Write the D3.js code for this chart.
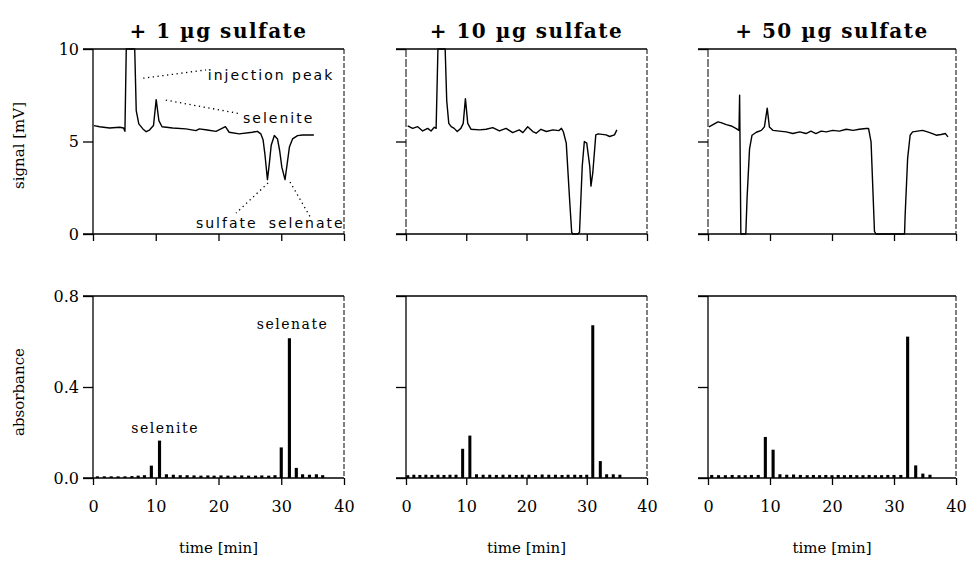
<!DOCTYPE html>
<html>
<head>
<meta charset="utf-8">
<script src="https://cdn.jsdelivr.net/npm/d3@7"></script>
<style>
  body { margin: 0; background: #fff; }
  svg { display: block; }
</style>
</head>
<body>
<div id="chart"></div>
<script>
// ---- data ----
var timeTicks = [0, 10, 20, 30, 40];
var signalTicks = [0, 5, 10];
var absorbTicks = [0, 0.4, 0.8];
var titles = ["+ 1 \u00b5g sulfate", "+ 10 \u00b5g sulfate", "+ 50 \u00b5g sulfate"];

// conductivity signal [time min, mV]
var signal1 = [[0.16,5.86],[1.06,5.8],[2.65,5.73],[4.24,5.77],[4.87,5.73],[5.09,5.55],[5.3,10],[6.65,10],[6.89,6.67],
  [7.3,5.95],[7.95,5.68],[8.48,5.53],[9.0,5.62],[9.64,5.86],[10.07,7.26],[10.5,6.13],[11.0,5.8],[12.7,5.73],[14.8,5.68],
  [16.4,5.59],[16.95,5.68],[18.2,5.62],[19.6,5.55],[20.4,5.68],[21.1,5.8],[21.7,5.5],[23.3,5.41],[25.4,5.5],[26.2,5.55],
  [26.75,5.41],[27.1,5.1],[27.4,4.3],[27.8,2.94],[28.1,3.8],[28.4,4.8],[28.9,5.32],[29.4,5.14],[29.75,4.5],[30.1,3.6],
  [30.6,2.94],[30.95,3.8],[31.3,4.7],[31.8,5.14],[32.6,5.32],[33.4,5.35],[35.2,5.35]];
var signal2 = [[0.28,5.84],[1.1,5.71],[1.94,5.8],[2.77,5.57],[3.6,5.71],[4.16,5.57],[4.7,5.77],[5.0,5.71],[5.3,10],[6.5,10],
  [6.76,7.2],[7.1,5.98],[7.5,5.8],[8.0,5.71],[8.5,5.54],[9.1,5.71],[9.5,5.98],[9.86,7.32],[10.25,5.98],[10.8,5.66],
  [12.2,5.63],[13.3,5.66],[14.4,5.75],[15.5,5.57],[16.6,5.71],[17.7,5.48],[18.8,5.63],[19.4,5.48],[20.2,5.8],[21.05,5.54],
  [21.6,5.45],[22.4,5.66],[23.3,5.54],[24.4,5.63],[25.4,5.59],[25.8,5.71],[26.1,5.54],[26.6,4.91],[27.15,1.88],[27.5,0.09],
  [27.7,0],[28.5,0],[28.8,0.09],[29.25,3.66],[29.6,5.0],[30.0,4.91],[30.5,3.66],[30.7,2.59],[31.0,3.3],[31.5,5.36],
  [31.9,5.41],[33.2,5.36],[33.8,5.27],[34.6,5.36],[35.0,5.63]];
var signal3 = [[0.16,5.79],[0.8,5.91],[1.6,6.06],[2.1,6.02],[2.95,5.91],[3.76,5.84],[4.56,5.7],[5.0,5.6],[5.1,7.5],[5.3,0],
  [6.1,0],[6.3,1.94],[6.7,4.6],[7.1,5.34],[7.8,5.5],[8.6,5.6],[9.1,5.79],[9.55,6.8],[9.9,5.79],[10.5,5.6],[11.5,5.56],
  [12.6,5.52],[13.7,5.43],[14.8,5.52],[15.8,5.43],[16.6,5.56],[17.4,5.43],[18.25,5.56],[19.1,5.52],[20.1,5.6],[21.2,5.56],
  [22.3,5.66],[23.4,5.6],[24.4,5.66],[25.5,5.7],[25.9,5.7],[26.3,4.98],[26.85,0.14],[27.1,0],[31.7,0],[31.8,1.04],
  [32.2,4.09],[32.6,5.34],[33.0,5.52],[33.8,5.56],[34.6,5.6],[35.4,5.52],[36.2,5.43],[36.8,5.34],[37.6,5.38],[38.3,5.43],
  [38.7,5.25]];

// fraction absorbance: times [min] and values
var fracTime1 = [0.7,1.8,2.9,4.0,5.1,6.2,7.2,8.2,9.3,10.6,11.7,12.8,13.9,15.0,16.1,17.2,18.3,19.3,20.4,21.5,22.6,23.7,
  24.8,25.9,26.9,28.0,29.0,30.0,31.3,32.4,33.4,34.5,35.6,36.6];
var absorb1 = [0.003,0.003,0.003,0.003,0.003,0.004,0.006,0.008,0.05,0.16,0.012,0.01,0.008,0.008,0.007,0.006,0.007,0.006,
  0.007,0.006,0.006,0.007,0.006,0.006,0.007,0.006,0.008,0.13,0.61,0.04,0.012,0.01,0.012,0.008];
var fracTime2 = [0.3,1.3,2.3,3.3,4.3,5.3,6.3,7.3,8.3,9.4,10.6,11.7,12.8,13.9,15.0,16.1,17.2,18.3,19.3,20.4,21.5,22.6,
  23.7,24.8,25.9,26.9,28.0,29.0,30.0,31.0,32.25,33.3,34.4,35.5];
var absorb2 = [0.008,0.01,0.009,0.01,0.009,0.01,0.009,0.01,0.01,0.124,0.182,0.012,0.01,0.01,0.009,0.01,0.01,0.009,0.01,
  0.01,0.009,0.011,0.01,0.01,0.009,0.01,0.01,0.009,0.01,0.667,0.07,0.012,0.012,0.01];
var fracTime3 = [0.6,1.7,2.8,3.9,5.0,6.0,7.0,8.1,9.25,10.5,11.6,12.7,13.8,14.9,16.0,17.0,18.0,19.0,20.0,21.0,22.0,23.0,
  24.0,25.0,26.0,27.0,28.0,29.0,30.0,31.1,32.2,33.5,34.65,35.8];
var absorb3 = [0.009,0.008,0.008,0.009,0.008,0.008,0.009,0.009,0.176,0.12,0.012,0.01,0.011,0.009,0.008,0.009,0.008,
  0.009,0.008,0.009,0.008,0.009,0.008,0.008,0.009,0.008,0.008,0.009,0.009,0.009,0.617,0.051,0.015,0.01];

// annotations of the first column, in data units
var signalNotes = [
  {text: "injection peak", from: [8.0, 8.42], to: [18.0, 8.87], at: [18.3, 8.3]},
  {text: "selenite", from: [11.6, 7.24], to: [23.6, 6.49], at: [23.9, 6.0]},
  {text: "sulfate", from: [27.9, 2.76], to: [22.8, 1.13], at: [16.4, 0.3]},
  {text: "selenate", from: [31.4, 2.81], to: [34.6, 0.93], at: [28.0, 0.3]}
];
var absorbNotes = [
  {text: "selenite", at: [11.5, 0.2]},
  {text: "selenate", at: [31.8, 0.655]}
];

var signals = [signal1, signal2, signal3];
var fracTimes = [fracTime1, fracTime2, fracTime3];
var absorbs = [absorb1, absorb2, absorb3];

// ---- layout ----
var W = 970, H = 570;
var cols = [{x0: 93, x1: 344}, {x0: 406, x1: 647}, {x0: 708, x1: 956}];
var topRow = {y0: 49, y1: 234};
var botRow = {y0: 296, y1: 478};
var serif = "'DejaVu Serif', serif";
var sans = "'DejaVu Sans', sans-serif";

var svg = d3.select("#chart").append("svg")
  .attr("width", W).attr("height", H);

cols.forEach(function(c, i) {
  var x = d3.scaleLinear().domain([0, 40]).range([c.x0, c.x1]);
  var yS = d3.scaleLinear().domain([0, 10]).range([topRow.y1, topRow.y0]);
  var yA = d3.scaleLinear().domain([0, 0.8]).range([botRow.y1, botRow.y0]);

  // title
  svg.append("text")
    .attr("x", (c.x0 + c.x1) / 2).attr("y", 38)
    .attr("text-anchor", "middle")
    .attr("font-family", serif).attr("font-weight", "bold")
    .attr("font-size", 20).attr("letter-spacing", "1.5px")
    .text(titles[i]);

  [[yS, topRow, signalTicks, d3.format("d")], [yA, botRow, absorbTicks, d3.format(".1f")]].forEach(function(r, k) {
    var y = r[0], row = r[1];
    var g = svg.append("g");

    // frame: top line, left line, right dashed line
    g.append("line").attr("x1", c.x0 - 10).attr("x2", c.x1)
      .attr("y1", row.y0).attr("y2", row.y0).attr("stroke", "#000").attr("stroke-width", 1.6);
    g.append("line").attr("x1", c.x0).attr("x2", c.x0)
      .attr("y1", row.y0).attr("y2", row.y1).attr("stroke", "#000")
      .attr("stroke-width", (i == 0 || k == 1) ? 1.3 : 1)
      .attr("stroke-dasharray", (i == 0 || k == 1) ? null : "8,2");
    g.append("line").attr("x1", c.x1).attr("x2", c.x1)
      .attr("y1", row.y0).attr("y2", row.y1).attr("stroke", "#000")
      .attr("stroke-width", 1).attr("stroke-dasharray", "5,2");

    // axes
    var ya = g.append("g").attr("transform", "translate(" + c.x0 + ",0)")
      .call(d3.axisLeft(y).tickValues(r[2]).tickSize(10).tickSizeOuter(0).tickPadding(4)
        .tickFormat(i == 0 ? r[3] : ""));
    var xa = g.append("g").attr("transform", "translate(0," + row.y1 + ")")
      .call(d3.axisBottom(x).tickValues(timeTicks).tickSize(7).tickSizeOuter(0).tickPadding(16)
        .tickFormat(k == 1 ? d3.format("d") : ""));
    [ya, xa].forEach(function(a) {
      a.select(".domain").remove();
      a.attr("font-family", serif).attr("font-size", 16);
      a.selectAll(".tick line").attr("stroke-width", 1.3);
    });
    g.append("line").attr("x1", c.x0 - 10).attr("x2", c.x1)
      .attr("y1", row.y1).attr("y2", row.y1).attr("stroke", "#000").attr("stroke-width", 1.6);

    // x title
    if (k == 1) {
      svg.append("text")
        .attr("x", (c.x0 + c.x1) / 2).attr("y", 553)
        .attr("text-anchor", "middle")
        .attr("font-family", serif).attr("font-size", 15)
        .text("time [min]");
    }
  });

  // signal trace
  var line = d3.line().x(d => x(d[0])).y(d => yS(d[1]));
  svg.append("path")
    .datum(signals[i])
    .attr("d", line)
    .attr("fill", "none")
    .attr("stroke", "#000")
    .attr("stroke-width", 1.4)
    .attr("stroke-linejoin", "round");

  // absorbance bars
  var bars = fracTimes[i].map(function(t, j) { return {t: t, v: absorbs[i][j]}; });
  svg.append("g").selectAll("rect")
    .data(bars).enter().append("rect")
    .attr("x", d => x(d.t - 0.25))
    .attr("width", d => x(d.t + 0.25) - x(d.t - 0.25))
    .attr("y", d => yA(d.v) - 1)
    .attr("height", d => yA(0) - yA(d.v) + 1)
    .attr("fill", "#000");

  if (i == 0) {
    var dots = svg.append("g");
    signalNotes.forEach(function(n) {
      dots.append("line")
        .attr("x1", x(n.from[0])).attr("y1", yS(n.from[1]))
        .attr("x2", x(n.to[0])).attr("y2", yS(n.to[1]))
        .attr("stroke", "#000").attr("stroke-width", 1.3)
        .attr("stroke-dasharray", "1.3,3.5");
      dots.append("text")
        .attr("x", x(n.at[0])).attr("y", yS(n.at[1]))
        .attr("font-family", sans).attr("font-size", 14)
        .attr("letter-spacing", "2px")
        .text(n.text);
    });
    absorbNotes.forEach(function(n) {
      svg.append("text")
        .attr("x", x(n.at[0])).attr("y", yA(n.at[1]))
        .attr("text-anchor", "middle")
        .attr("font-family", serif).attr("font-size", 14)
        .attr("letter-spacing", "1.5px")
        .text(n.text);
    });

    // y titles
    svg.append("text")
      .attr("transform", "translate(24," + ((topRow.y0 + topRow.y1) / 2 + 4) + ") rotate(-90)")
      .attr("text-anchor", "middle")
      .attr("font-family", serif).attr("font-size", 15)
      .text("signal [mV]");
    svg.append("text")
      .attr("transform", "translate(24," + ((botRow.y0 + botRow.y1) / 2 + 5) + ") rotate(-90)")
      .attr("text-anchor", "middle")
      .attr("font-family", serif).attr("font-size", 15)
      .text("absorbance");
  }
});
</script>
</body>
</html>
